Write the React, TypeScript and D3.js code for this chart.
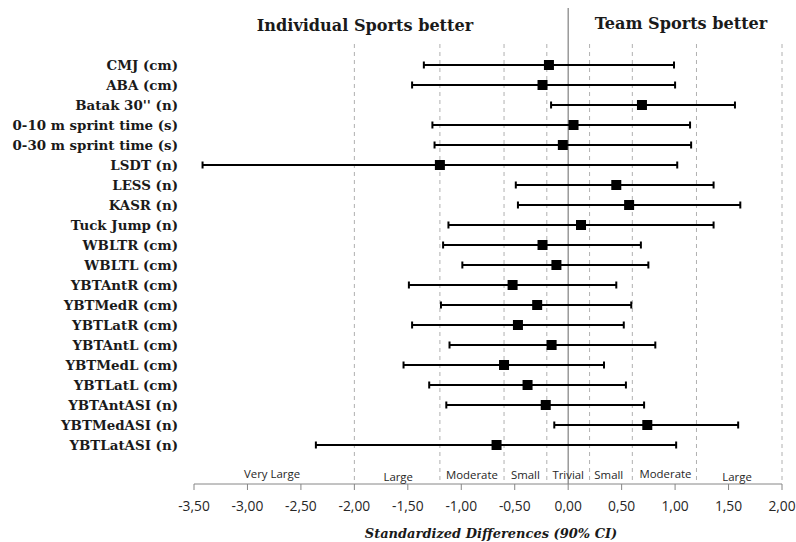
import React from "react";
import * as d3 from "d3";

const categories = [
  "CMJ (cm)",
  "ABA (cm)",
  "Batak 30'' (n)",
  "0-10 m sprint time (s)",
  "0-30 m sprint time (s)",
  "LSDT (n)",
  "LESS (n)",
  "KASR (n)",
  "Tuck Jump (n)",
  "WBLTR (cm)",
  "WBLTL (cm)",
  "YBTAntR (cm)",
  "YBTMedR (cm)",
  "YBTLatR (cm)",
  "YBTAntL (cm)",
  "YBTMedL (cm)",
  "YBTLatL (cm)",
  "YBTAntASI (n)",
  "YBTMedASI (n)",
  "YBTLatASI (n)",
];
const means = [-0.18, -0.24, 0.69, 0.05, -0.05, -1.2, 0.45, 0.57, 0.12, -0.24, -0.11, -0.52, -0.29, -0.47, -0.155, -0.6, -0.38, -0.21, 0.74, -0.67];
const lowers = [-1.35, -1.46, -0.16, -1.27, -1.25, -3.42, -0.49, -0.47, -1.12, -1.17, -0.99, -1.49, -1.19, -1.46, -1.11, -1.54, -1.3, -1.14, -0.13, -2.36];
const uppers = [0.99, 1.0, 1.56, 1.14, 1.15, 1.02, 1.36, 1.61, 1.36, 0.68, 0.75, 0.45, 0.59, 0.52, 0.815, 0.335, 0.54, 0.71, 1.59, 1.01];
const tickValues = [-3.5, -3, -2.5, -2, -1.5, -1, -0.5, 0, 0.5, 1, 1.5, 2];
const thresholds = [-2, -1.2, -0.6, -0.2, 0.2, 0.6, 1.2, 2];
const magnitudeLabels = ["Very Large", "Large", "Moderate", "Small", "Trivial", "Small", "Moderate", "Large"];
const magnitudeCenters = [-2.77, -1.59, -0.9, -0.4, 0, 0.38, 0.91, 1.58];
const magnitudeOffsets = [0, 3, 1, 1, 1, 1, 0, 3];

const fmt = (v: number) => v.toFixed(2).replace(".", ",");

export default function App() {
  const x = d3.scaleLinear().domain([-3.5, 2]).range([194, 782]);
  const y = d3
    .scalePoint<string>()
    .domain(categories)
    .range([65, 445]);
  const axisY = 484;
  const serif = "'DejaVu Serif', serif";
  const sans = "'Open Sans', sans-serif";

  return (
    <svg
      width={796}
      height={542}
      style={{ position: "absolute", left: 0, top: 0, background: "#fff" }}
    >
      {/* headers */}
      <text x={365} y={31} textAnchor="middle" fontFamily={serif} fontWeight="bold" fontSize={16.1} fill="#1a1a1a">
        Individual Sports better
      </text>
      <text x={681} y={29} textAnchor="middle" fontFamily={serif} fontWeight="bold" fontSize={16.1} fill="#1a1a1a">
        Team Sports better
      </text>

      {/* threshold dashed lines */}
      {thresholds.map((t, i) => (
        <line
          key={"th" + i}
          x1={x(t)}
          x2={x(t)}
          y1={44}
          y2={axisY}
          stroke="#b0b0b0"
          strokeWidth={1}
          strokeDasharray="4,4"
        />
      ))}
      {/* zero line */}
      <line x1={x(0)} x2={x(0)} y1={8} y2={axisY} stroke="#808080" strokeWidth={1.2} />

      {/* axis */}
      <line x1={x(-3.5)} x2={x(2)} y1={axisY} y2={axisY} stroke="#868686" strokeWidth={1} />
      {tickValues.map((t, i) => (
        <g key={"tk" + i}>
          <line x1={x(t)} x2={x(t)} y1={axisY} y2={axisY + 6} stroke="#868686" strokeWidth={1} />
          <text x={x(t)} y={506} dy="0.35em" textAnchor="middle" fontFamily={sans} fontSize={13.8} fill="#262626">
            {fmt(t)}
          </text>
        </g>
      ))}

      {/* magnitude labels */}
      {magnitudeLabels.map((m, i) => (
        <text
          key={"mg" + i}
          x={x(magnitudeCenters[i])}
          y={474 + magnitudeOffsets[i]}
          dy="0.35em"
          textAnchor="middle"
          fontFamily={sans}
          fontSize={11.4}
          fill="#262626"
        >
          {m}
        </text>
      ))}

      {/* axis title */}
      <text x={491} y={533} dy="0.35em" textAnchor="middle" fontFamily={serif} fontWeight="bold" fontStyle="italic" fontSize={13} fill="#1a1a1a">
        Standardized Differences  (90% CI)
      </text>

      {/* category labels */}
      {categories.map((c) => (
        <text
          key={"lb" + c}
          x={178}
          y={y(c)!}
          dy="0.35em"
          textAnchor="end"
          fontFamily={serif}
          fontWeight="bold"
          fontSize={13.4}
          fill="#1a1a1a"
        >
          {c}
        </text>
      ))}

      {/* error bars */}
      {categories.map((c, i) => {
        const cy = y(c)!;
        return (
          <g key={"eb" + c}>
            <line x1={x(lowers[i])} x2={x(uppers[i])} y1={cy} y2={cy} stroke="#000" strokeWidth={2} />
            <line x1={x(lowers[i])} x2={x(lowers[i])} y1={cy - 3.5} y2={cy + 3.5} stroke="#000" strokeWidth={2} />
            <line x1={x(uppers[i])} x2={x(uppers[i])} y1={cy - 3.5} y2={cy + 3.5} stroke="#000" strokeWidth={2} />
            <rect x={x(means[i]) - 5} y={cy - 5} width={10} height={10} fill="#000" />
          </g>
        );
      })}
    </svg>
  );
}
